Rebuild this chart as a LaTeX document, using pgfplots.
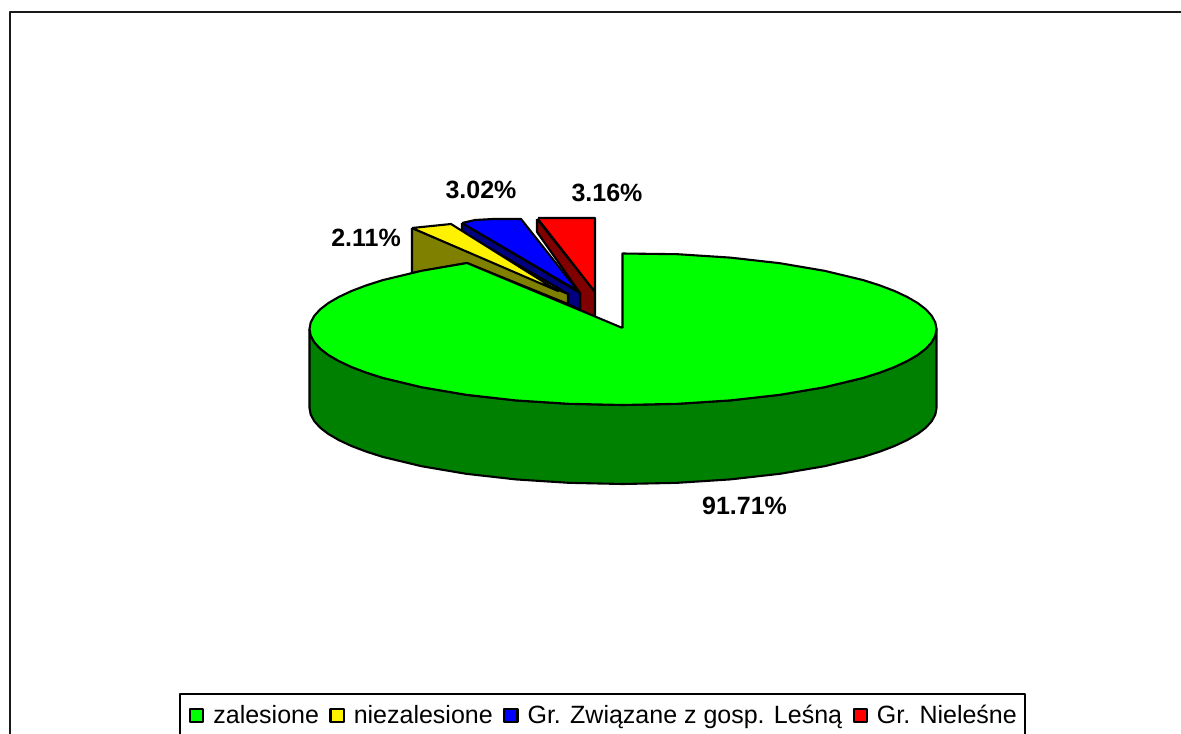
\documentclass[border=0pt]{standalone}
\usepackage{fontspec}
\setmainfont{Liberation Sans}
\usepackage{pgfplots}
\pgfplotsset{compat=1.18}
\definecolor{cgreen}{RGB}{0,255,0}
\definecolor{cdgreen}{RGB}{0,128,0}
\definecolor{colive}{RGB}{128,128,0}
\definecolor{cnavy}{RGB}{0,0,128}
\definecolor{cdred}{RGB}{128,0,0}
\begin{document}
\begin{tikzpicture}
\begin{axis}[
  scale only axis, width=590.5pt, height=366.5pt,
  xmin=0, xmax=1181, ymin=0, ymax=733, y dir=reverse,
  axis lines=none, clip=true,
  legend columns=4,
  legend cell align=left,
  legend style={draw=none, fill=none, at={(0.1600,0.0239)}, anchor=west, inner sep=0pt, outer sep=0pt,
    font=\fontsize{12.5}{14}\selectfont,
    /tikz/every even column/.style={column sep=3.2pt},
    /tikz/every odd column/.style={column sep=2.5pt}},
  legend image code/.code={\draw[line width=1.1pt,#1] (0pt,-3.3pt) rectangle (6.6pt,3.3pt);},
  every axis plot/.append style={line width=1.05pt, draw=black, line join=round},
]
\path (axis cs:0,0) rectangle (axis cs:1181,733);
\addlegendimage{fill=cgreen,draw=black}\addlegendentry{zalesione}
\addlegendimage{fill=yellow,draw=black}\addlegendentry{niezalesione}
\addlegendimage{fill=blue,draw=black}\addlegendentry{Gr. Związane z gosp. Leśną}
\addlegendimage{fill=red,draw=black}\addlegendentry{Gr. Nieleśne}
% frame
\addplot[forget plot, line width=1.3pt, draw=black!90] coordinates {(10,740) (10,12) (1190,12)};
% legend box
\addplot[forget plot, line width=1.1pt] coordinates {(180,740) (180,694) (1025,694) (1025,740)};
% red slice
\addplot[forget plot, fill=cdred] coordinates {(537,219) (537,232) (580,293) (580,310) (595,317) (595,292) (537,219)};
\addplot[forget plot, fill=red] coordinates {(538,218) (595,218) (595,292) (538,219)};
% blue slice
\addplot[forget plot, fill=cnavy] coordinates {(462,223) (462,232) (568,294) (568,304) (580,310) (580,293) (462,223)};
\addplot[forget plot, fill=blue] coordinates {(462,223) (475,220) (493,219) (521,219) (578,291) (462,223)};
% yellow slice
\addplot[forget plot, fill=colive] coordinates {(412,228) (412,273) (467,263) (568,304) (568,294) (412,228)};
\addplot[forget plot, fill=yellow] coordinates {(412,228) (451,224) (558,291) (412,228)};
% main slice side
\addplot[forget plot, fill=cdgreen] coordinates {
 (309.5,329) (310.7,335.6) (314.3,342.2) (320.2,348.7) (328.4,355) (338.9,361.1) (351.5,367) (366.2,372.6) (382.8,377.9) (421.5,387.2) (466.2,394.8) (515.8,400.4) (568.6,403.8) (623,405)
 (677.4,403.8) (730.2,400.4) (779.8,394.8) (824.5,387.2) (863.2,377.9) (879.8,372.6) (894.5,367) (907.1,361.1) (917.6,355) (925.8,348.7) (931.7,342.2) (935.3,335.6) (936.5,329)
 (936.5,408) (935.3,414.6) (931.7,421.2) (925.8,427.7) (917.6,434) (907.1,440.1) (894.5,446) (879.8,451.6) (863.2,456.9) (824.5,466.2) (779.8,473.8) (730.2,479.4) (677.4,482.8) (623,484)
 (568.6,482.8) (515.8,479.4) (466.2,473.8) (421.5,466.2) (382.8,456.9) (366.2,451.6) (351.5,446) (338.9,440.1) (328.4,434) (320.2,427.7) (314.3,421.2) (310.7,414.6) (309.5,408) (309.5,329)};
% main slice top
\addplot[forget plot, fill=cgreen] coordinates {
 (622.5,328) (622.5,253.5) (677.4,254.2) (730.2,257.6) (779.8,263.2) (824.5,270.8) (863.2,280.1) (879.8,285.4) (894.5,291) (907.1,296.9) (917.6,303) (925.8,309.3) (931.7,315.8) (935.3,322.4) (936.5,329)
 (935.3,335.6) (931.7,342.2) (925.8,348.7) (917.6,355) (907.1,361.1) (894.5,367) (879.8,372.6) (863.2,377.9) (824.5,387.2) (779.8,394.8) (730.2,400.4) (677.4,403.8) (623,405)
 (568.6,403.8) (515.8,400.4) (466.2,394.8) (421.5,387.2) (382.8,377.9) (366.2,372.6) (351.5,367) (338.9,361.1) (328.4,355) (320.2,348.7) (314.3,342.2) (310.7,335.6) (309.5,329)
 (310.7,322.4) (314.3,315.8) (320.2,309.3) (328.4,303) (338.9,296.9) (351.5,291) (366.2,285.4) (382.8,280.1) (421.5,270.8) (467,263) (622.5,328)};
% labels
\node[font=\bfseries\fontsize{12.5}{14}\selectfont] at (axis cs:744.5,506) {91.71\%};
\node[font=\bfseries\fontsize{12.5}{14}\selectfont] at (axis cs:481,190) {3.02\%};
\node[font=\bfseries\fontsize{12.5}{14}\selectfont] at (axis cs:607,193) {3.16\%};
\node[font=\bfseries\fontsize{12.5}{14}\selectfont] at (axis cs:366,238) {2.11\%};
\end{axis}
\end{tikzpicture}
\end{document}
